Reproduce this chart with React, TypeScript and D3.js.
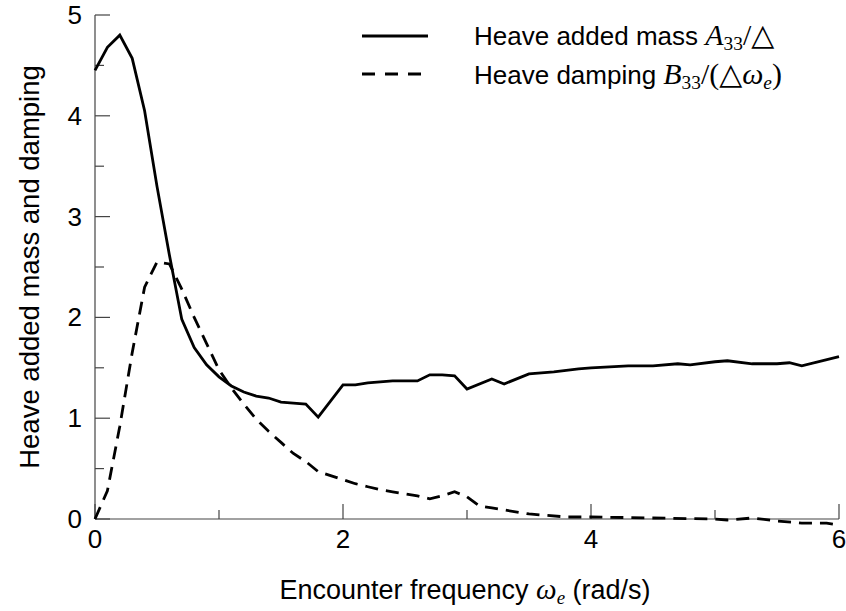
import { useRef, useEffect } from 'react';
import * as d3 from 'd3';

// encounter frequency (rad/s) and heave added mass A33/Δ
const massFreq = [0, 0.1, 0.2, 0.3, 0.4, 0.5, 0.6, 0.7, 0.8, 0.9, 1.0, 1.1, 1.2, 1.3, 1.4, 1.5, 1.6, 1.7, 1.8, 2.0,
  2.1, 2.2, 2.3, 2.4, 2.5, 2.6, 2.7, 2.8, 2.9, 3.0, 3.2, 3.3, 3.5, 3.7, 3.9, 4.0, 4.3, 4.5, 4.7, 4.8, 5.0, 5.1,
  5.3, 5.5, 5.6, 5.7, 6.0];
const addedMass = [4.45, 4.68, 4.8, 4.57, 4.05, 3.3, 2.62, 1.98, 1.7, 1.53, 1.41, 1.32, 1.26, 1.22, 1.2, 1.16, 1.15, 1.14, 1.01, 1.33,
  1.33, 1.35, 1.36, 1.37, 1.37, 1.37, 1.43, 1.43, 1.42, 1.29, 1.39, 1.34, 1.44, 1.46, 1.49, 1.5, 1.52, 1.52, 1.54, 1.53, 1.56, 1.57,
  1.54, 1.54, 1.55, 1.52, 1.61];

// heave damping B33/(Δ ωe)
const dampFreq = [0, 0.1, 0.2, 0.3, 0.4, 0.5, 0.6, 0.7, 0.8, 0.9, 1.0, 1.1, 1.2, 1.3, 1.4, 1.5, 1.6, 1.7, 1.8, 1.9,
  2.0, 2.1, 2.2, 2.3, 2.4, 2.5, 2.6, 2.7, 2.8, 2.9, 3.0, 3.1, 3.2, 3.3, 3.5, 3.8, 4.0, 4.5, 5.0, 5.1, 5.3, 5.5,
  5.7, 5.9, 6.0];
const damping = [0, 0.28, 0.92, 1.65, 2.3, 2.55, 2.53, 2.28, 2.0, 1.74, 1.48, 1.3, 1.14, 0.99, 0.87, 0.76, 0.65, 0.57, 0.47, 0.43,
  0.39, 0.35, 0.32, 0.29, 0.27, 0.25, 0.23, 0.2, 0.23, 0.27, 0.22, 0.13, 0.11, 0.09, 0.05, 0.02, 0.02, 0.01, 0.0, -0.01, 0.01, -0.02,
  -0.04, -0.04, -0.06];

const xMajor = [0, 2, 4, 6];
const xMinor = [1, 3, 5];
const yMajor = [0, 1, 2, 3, 4, 5];
const yMinor = [0.5, 1.5, 2.5, 3.5, 4.5];

const W = 846;
const H = 611;
const sans = "'Liberation Sans', Arial, Helvetica, sans-serif";
const serif = "'Liberation Serif', 'DejaVu Serif', serif";

type Part = { t: string; it?: boolean; sub?: boolean; serif?: boolean };

// text with math pieces; subscripts drop below the baseline and the next piece comes back up
const appendParts = (text: any, parts: Part[], size: number, mathScale = 1.08) => {
  let shift = 0;
  parts.forEach(p => {
    const ts = text.append('tspan')
      .attr('font-family', p.it || p.sub || p.serif ? serif : sans)
      .attr('font-style', p.it ? 'italic' : 'normal')
      .attr('font-size', p.sub ? size * 0.7 * mathScale / 1.08 : (p.it || p.serif ? size * mathScale : size))
      .text(p.t);
    const want = p.sub ? size * 0.2 : 0;
    if (want !== shift) {
      ts.attr('dy', want - shift);
      shift = want;
    }
  });
};

const App = () => {
  const ref = useRef<SVGSVGElement>(null);

  useEffect(() => {
    const svg = d3.select(ref.current);
    svg.selectAll('*').remove();

    const x = d3.scaleLinear().domain([0, 6]).range([95, 839]);
    const y = d3.scaleLinear().domain([0, 5]).range([519, 15]);
    const axisColor = '#444';

    // axes
    svg.append('line').attr('x1', x(0)).attr('x2', x(6)).attr('y1', y(0)).attr('y2', y(0))
      .attr('stroke', axisColor).attr('stroke-width', 1.2);
    svg.append('line').attr('x1', x(0)).attr('x2', x(0)).attr('y1', y(0)).attr('y2', y(5))
      .attr('stroke', axisColor).attr('stroke-width', 1.2);

    svg.selectAll('.xmaj').data(xMajor).enter().append('line')
      .attr('x1', d => x(d)).attr('x2', d => x(d)).attr('y1', y(0)).attr('y2', y(0) - 15)
      .attr('stroke', axisColor).attr('stroke-width', 1.2);
    svg.selectAll('.xmin').data(xMinor).enter().append('line')
      .attr('x1', d => x(d)).attr('x2', d => x(d)).attr('y1', y(0)).attr('y2', y(0) - 9)
      .attr('stroke', axisColor).attr('stroke-width', 1.2);
    svg.selectAll('.ymaj').data(yMajor).enter().append('line')
      .attr('x1', x(0)).attr('x2', x(0) + 15).attr('y1', d => y(d)).attr('y2', d => y(d))
      .attr('stroke', axisColor).attr('stroke-width', 1.2);
    svg.selectAll('.ymin').data(yMinor).enter().append('line')
      .attr('x1', x(0)).attr('x2', x(0) + 9).attr('y1', d => y(d)).attr('y2', d => y(d))
      .attr('stroke', axisColor).attr('stroke-width', 1.2);

    svg.selectAll('.xlab').data(xMajor).enter().append('text')
      .attr('x', d => x(d)).attr('y', y(0) + 29)
      .attr('text-anchor', 'middle').attr('font-family', sans).attr('font-size', 26)
      .attr('fill', '#000').text(d => d);
    svg.selectAll('.ylab').data(yMajor).enter().append('text')
      .attr('x', x(0) - 13).attr('y', d => y(d) + 9)
      .attr('text-anchor', 'end').attr('font-family', sans).attr('font-size', 26)
      .attr('fill', '#000').text(d => d);

    // titles
    const xt = svg.append('text').attr('x', 465).attr('y', 599)
      .attr('text-anchor', 'middle').attr('fill', '#000').attr('font-size', 27).attr('font-family', sans);
    appendParts(xt, [
      { t: 'Encounter frequency ' }, { t: 'ω', it: true }, { t: 'e', it: true, sub: true }, { t: ' (rad/s)' }
    ], 27);

    svg.append('text')
      .attr('transform', `translate(39, ${y(2.5)}) rotate(-90)`)
      .attr('text-anchor', 'middle').attr('font-family', sans).attr('font-size', 27.5).attr('fill', '#000')
      .text('Heave added mass and damping');

    // curves
    const line = d3.line<[number, number]>().x(d => x(d[0])).y(d => y(d[1]));
    svg.append('path')
      .attr('d', line(massFreq.map((f, i) => [f, addedMass[i]] as [number, number])))
      .attr('fill', 'none').attr('stroke', '#000').attr('stroke-width', 2.8).attr('stroke-linejoin', 'miter');
    svg.append('path')
      .attr('d', line(dampFreq.map((f, i) => [f, damping[i]] as [number, number])))
      .attr('fill', 'none').attr('stroke', '#000').attr('stroke-width', 2.8)
      .attr('stroke-dasharray', '13,8');

    // legend
    svg.append('line').attr('x1', 362).attr('x2', 428).attr('y1', 36).attr('y2', 36)
      .attr('stroke', '#000').attr('stroke-width', 2.8);
    svg.append('line').attr('x1', 362).attr('x2', 428).attr('y1', 74).attr('y2', 74)
      .attr('stroke', '#000').attr('stroke-width', 2.8).attr('stroke-dasharray', '13,10');

    const l1 = svg.append('text').attr('x', 474).attr('y', 45).attr('fill', '#000').attr('font-size', 26).attr('font-family', sans);
    appendParts(l1, [
      { t: 'Heave added mass ' }, { t: 'A', it: true }, { t: '33', sub: true }, { t: '/△', serif: true }
    ], 26, 1.15);
    const l2 = svg.append('text').attr('x', 474).attr('y', 84).attr('fill', '#000').attr('font-size', 26).attr('font-family', sans);
    appendParts(l2, [
      { t: 'Heave damping ' }, { t: 'B', it: true }, { t: '33', sub: true }, { t: '/(△', serif: true },
      { t: 'ω', it: true }, { t: 'e', it: true, sub: true }, { t: ')', serif: true }
    ], 26, 1.15);
  }, []);

  return (
    <svg ref={ref} width={W} height={H} style={{ position: 'absolute', left: 0, top: 0, background: '#fff' }} />
  );
};

export default App;
